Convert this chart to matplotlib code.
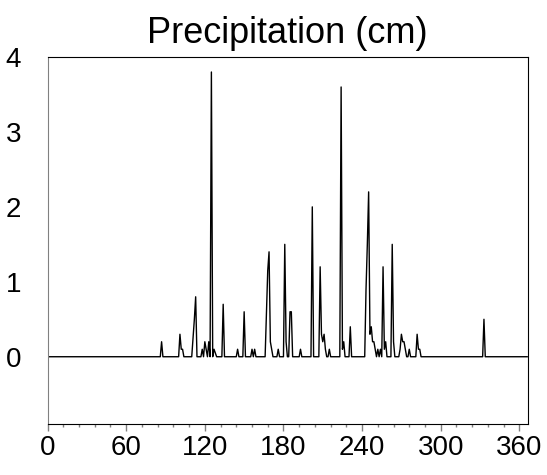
import numpy as np
import matplotlib.pyplot as plt
from matplotlib.ticker import MultipleLocator

plt.rcParams['font.family'] = ['Liberation Sans', 'DejaVu Sans']

# dias con lluvia (dia del año) y precipitacion en cm; el resto es 0
dias = [87, 101, 102, 103, 111, 112, 113, 118, 120, 121, 123, 125, 127, 128,
        134, 145, 150, 156, 158, 167, 168, 169, 170, 171, 176, 181, 182, 185,
        186, 193, 202, 208, 209, 210, 211, 212, 215, 224, 225, 226, 231, 243,
        244, 245, 246, 247, 248, 249, 250, 252, 254, 256, 257, 258, 263, 264,
        269, 270, 271, 272, 273, 276, 282, 283, 284, 333]
precip = [0.2, 0.3, 0.1, 0.1, 0.25, 0.5, 0.8, 0.1, 0.2, 0.1, 0.2, 3.8, 0.1, 0.05,
          0.7, 0.1, 0.6, 0.1, 0.1, 0.6, 1.15, 1.4, 0.2, 0.1, 0.1, 1.5, 0.2, 0.6,
          0.6, 0.1, 2.0, 1.2, 0.3, 0.2, 0.3, 0.1, 0.1, 3.6, 0.1, 0.2, 0.4, 0.9,
          1.5, 2.2, 0.3, 0.4, 0.2, 0.2, 0.1, 0.1, 0.1, 1.2, 0.1, 0.2, 1.5, 0.2,
          0.1, 0.3, 0.2, 0.2, 0.1, 0.1, 0.3, 0.1, 0.1, 0.5]

x = np.arange(0, 367)
y = np.zeros(len(x))
for d, p in zip(dias, precip):
    y[d] = p

fig = plt.figure(figsize=(5.47, 4.75), dpi=100)
ax = fig.add_axes([0.087, 0.107, 0.878, 0.773])
ax.plot(x, y, color='black', lw=1)

ax.set_xlim(0, 366.5)
ax.set_ylim(-0.9, 4)
ax.set_xticks([0, 60, 120, 180, 240, 300, 360])
ax.xaxis.set_minor_locator(MultipleLocator(12))
ax.set_yticks([0, 1, 2, 3, 4])
ax.tick_params(axis='x', which='major', length=5, width=1, color='gray', labelsize=20, pad=2.5)
ax.tick_params(axis='x', which='minor', length=2, width=1, color='gray')
ax.tick_params(axis='y', length=0, labelsize=20, pad=19)
ax.spines['left'].set_color('gray')
ax.set_title("Precipitation (cm)", fontsize=26, pad=10)

plt.savefig("out.png")
